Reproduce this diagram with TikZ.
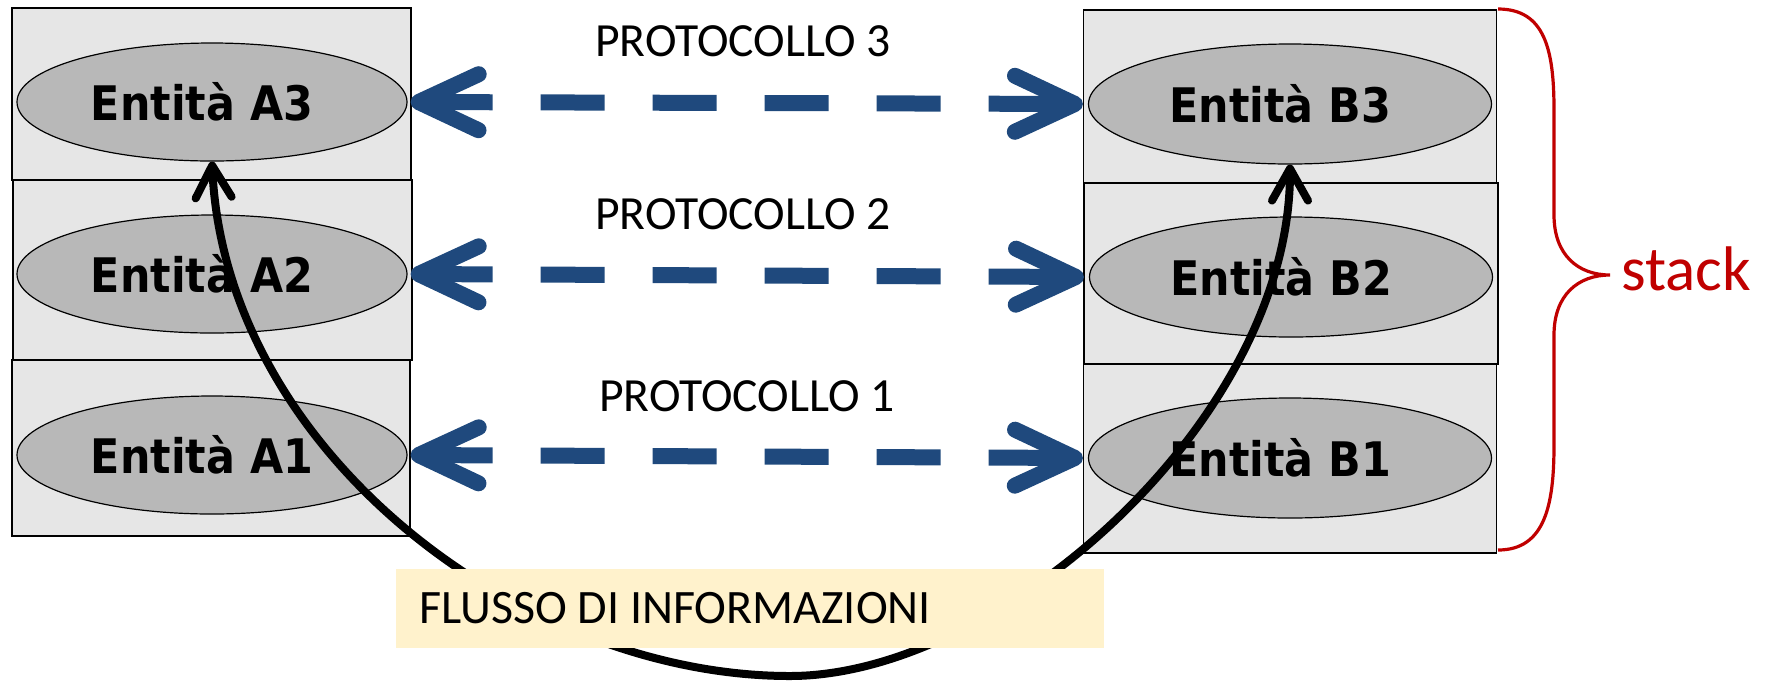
\documentclass[tikz,border=0pt]{standalone}
\usepackage{fontspec}
\setmainfont{Carlito}
\newfontfamily\entfont{DejaVu Sans Condensed}
\usetikzlibrary{arrows.meta,shapes.geometric}
\definecolor{boxgray}{RGB}{230,230,230}
\definecolor{ellgray}{RGB}{184,184,184}
\definecolor{arrowblue}{RGB}{31,73,125}
\definecolor{bracered}{RGB}{192,0,0}
\definecolor{lblyellow}{RGB}{255,242,204}
\begin{document}
\begin{tikzpicture}[x=0.5pt,y=-0.5pt,
  layerbox/.style={draw=black, line width=0.8pt, fill=boxgray, inner sep=0pt},
  entity/.style={ellipse, draw=black, line width=0.6pt, fill=ellgray, inner sep=0pt,
    font=\entfont\bfseries\fontsize{23.8}{28}\selectfont,
    execute at end node={\kern10pt}},
  protarrow/.style={arrowblue, line width=8pt, line cap=butt,
    dash pattern=on 33pt off 24pt on 32pt off 24pt on 32pt off 24pt on 32pt off 24pt on 32pt off 24pt on 90pt off 1pt,
    arrows={Straight Barb[length=30pt,width=28pt,round]-Straight Barb[length=30pt,width=28pt,round]},
    shorten <=1.5pt, shorten >=2.5pt},
  protlabel/.style={anchor=base, inner sep=0pt, font=\fontsize{23.8}{28}\selectfont},
  flowarrow/.style={black, line width=4pt, line cap=round,
    arrows={Straight Barb[length=16pt,width=18pt,round]-Straight Barb[length=16pt,width=18pt,round]}},
  flowlabel/.style={fill=lblyellow, minimum width=354pt, minimum height=39.5pt,
    inner xsep=11.5pt, inner ysep=0pt,
    font=\fontsize{24}{28}\selectfont},
  bracestyle/.style={bracered, line width=1.6pt}
]
\useasboundingbox (0,0) rectangle (1766,682);

% layer boxes
\node[layerbox, minimum width=199.5pt, minimum height=86pt] (bA3) at (211.5,94) {};
\node[layerbox, minimum width=199.5pt, minimum height=90pt] (bA2) at (212.5,270) {};
\node[layerbox, minimum width=199pt, minimum height=88pt] (bA1) at (211,448) {};
\node[layerbox, minimum width=206.5pt, minimum height=86.5pt] (bB3) at (1290,96.5) {};
\node[layerbox, minimum width=207pt, minimum height=90.5pt] (bB2) at (1291,273.5) {};
\node[layerbox, minimum width=206.5pt, minimum height=94.5pt] (bB1) at (1290,458.5) {};

% entities
\node[entity, minimum width=195pt, minimum height=59pt] (eA3) at (212,102) {Entità A3};
\node[entity, minimum width=195pt, minimum height=59pt] (eA2) at (212,274) {Entità A2};
\node[entity, minimum width=195pt, minimum height=59pt] (eA1) at (212,455) {Entità A1};
\node[entity, minimum width=201.5pt, minimum height=60pt] (eB3) at (1290,104) {Entità B3};
\node[entity, minimum width=201.5pt, minimum height=60pt] (eB2) at (1291,277) {Entità B2};
\node[entity, minimum width=201.5pt, minimum height=60pt] (eB1) at (1290,458) {Entità B1};

% protocol arrows
\draw[protarrow] (eA3.east) -- (eB3.west);
\draw[protarrow] (eA2.east) -- (eB2.west);
\draw[protarrow] (eA1.east) -- (eB1.west);

\node[protlabel] (p3) at (743,56) {PROTOCOLLO 3};
\node[protlabel] (p2) at (743,229) {PROTOCOLLO 2};
\node[protlabel] (p1) at (747,411) {PROTOCOLLO 1};

% information flow
\coordinate (fbot) at (790,676);
\draw[flowarrow] (eA3.south) .. controls (225,450) and (520,676) .. (fbot)
  .. controls (1000,676) and (1290,420) .. (eB3.south);

\node[flowlabel] (flow) at (750,608.5) {\makebox[331pt][l]{FLUSSO DI INFORMAZIONI}};

% stack brace
\draw[bracestyle] (1498,9) .. controls (1545,9) and (1554,50) .. (1554,110)
  -- (1554,215) .. controls (1554,255) and (1578,275) .. (1610,275)
  .. controls (1578,275) and (1554,295) .. (1554,335)
  -- (1554,445) .. controls (1554,505) and (1545,550) .. (1498,550);
\node[anchor=base west, inner sep=0pt, text=bracered, font=\fontsize{31.5}{36}\selectfont] (stk) at (1621,290) {stack};
\end{tikzpicture}
\end{document}
